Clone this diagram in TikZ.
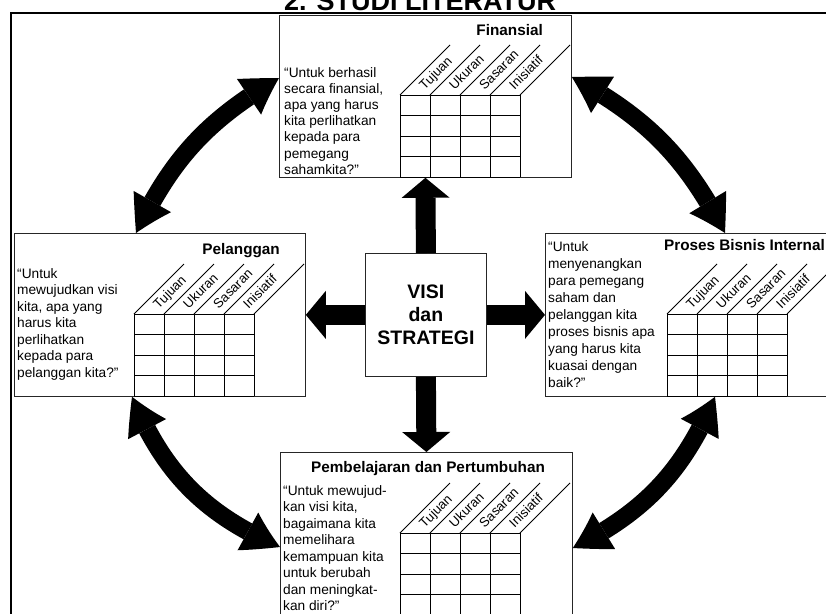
\documentclass[tikz,border=0pt]{standalone}
\usepackage{fontspec}
\setmainfont{Liberation Sans}
\usetikzlibrary{arrows.meta,bending,calc}
\newcommand\bscgrid[2]{%
  \foreach \k in {0,1,2,3,4} {
    \draw[gridline] ({#1+30*\k},#2) -- ({#1+30*\k},{#2+82});
    \draw[gridline] ({#1+30*\k},#2) -- ({#1+30*\k+50},{#2-50});
    \draw[gridline] (#1,{#2+20.5*\k}) -- ({#1+120},{#2+20.5*\k});
  }
  \foreach \lab [count=\k from 0] in {Tujuan,Ukuran,Sasaran,Inisiatif}
    \node[collabel] at ({#1+30*\k+24.5},{#2-4.5}) {\lab};
}
\begin{document}
\begin{tikzpicture}[x=1pt,y=-1pt,
  box/.style={draw=black!85, line width=0.8pt, fill=white, inner sep=0pt, anchor=north west},
  gridline/.style={line width=0.8pt},
  quote/.style={anchor=north west, inner sep=0pt, align=left, font=\fontsize{13.7}{16.5}\selectfont},
  ttl/.style={inner sep=0pt, font=\bfseries\fontsize{15.3}{18}\selectfont},
  collabel/.style={inner sep=0pt, anchor=base west, rotate=45, font=\fontsize{13.2}{15}\selectfont},
  fatarrow/.style={line width=20pt, -{Triangle[width=48pt,length=20pt,line width=0pt]}},
  curvearrow/.style={line width=18pt, {Triangle[width=43pt,length=37pt,line width=0pt,bend]}-{Triangle[width=43pt,length=37pt,line width=0pt,bend]}},
]
\useasboundingbox (0,0) rectangle (826,613);
\clip (0,0) rectangle (826,613);

% title and outer frame
\node[inner sep=0pt, anchor=base, font=\bfseries\fontsize{27}{30}\selectfont] (title) at (420,10) {2. STUDI LITERATUR};
\draw[line width=2.5pt] (11,13) rectangle (860,660);

% boxes
\node[box, minimum width=292pt, minimum height=162pt] (fin) at (279,15) {};
\node[box, minimum width=291pt, minimum height=163pt] (pel) at (14,233) {};
\node[box, minimum width=292pt, minimum height=163pt] (pro) at (545,233) {};
\node[box, minimum width=292pt, minimum height=163pt] (pem) at (280,452) {};
\node[box, minimum width=121pt, minimum height=123pt, align=center,
      font=\bfseries\fontsize{19.5}{23}\selectfont] (visi) at (365,253) {VISI\\dan\\STRATEGI};

% grids
\bscgrid{400}{95}
\bscgrid{134}{314}
\bscgrid{667}{314}
\bscgrid{400}{533}

% titles
\node[ttl, anchor=base east] (tfin) at (543,35) {Finansial};
\node[ttl, anchor=base east] (tpel) at (280,254) {Pelanggan};
\node[ttl, anchor=base east] (tpro) at (825,250) {Proses Bisnis Internal};
\node[ttl, anchor=base] (tpem) at (428,472) {Pembelajaran dan Pertumbuhan};

% questions (north west placed ~10pt above first baseline)
\node[quote, font=\fontsize{13.7}{16.2}\selectfont] (qfin) at (284,67) {“Untuk berhasil\\secara finansial,\\apa yang harus\\kita perlihatkan\\kepada para\\pemegang\\sahamkita?”};
\node[quote] (qpel) at (17,268) {“Untuk\\mewujudkan visi\\kita, apa yang\\harus kita\\perlihatkan\\kepada para\\pelanggan kita?”};
\node[quote, font=\fontsize{13.7}{17}\selectfont] (qpro) at (548,241) {“Untuk\\menyenangkan\\para pemegang\\saham dan\\pelanggan kita\\proses bisnis apa\\yang harus kita\\kuasai dengan\\baik?”};
\node[quote] (qpem) at (283,485) {“Untuk mewujud-\\kan visi kita,\\bagaimana kita\\memelihara\\kemampuan kita\\untuk berubah\\dan meningkat-\\kan diri?”};

% straight arrows
\draw[fatarrow] (visi.north) -- (fin.south);
\draw[fatarrow] (visi.south) -- (pem.north);
\draw[fatarrow] (visi.west) -- (pel.east);
\draw[fatarrow] (visi.east) -- (pro.west);

% curved arrow end points
\coordinate (fW) at ($(fin.north west)+(0,63)$);
\coordinate (pN) at ($(pel.north west)+(122,0)$);
\coordinate (fE) at ($(fin.north east)+(0,62)$);
\coordinate (rN) at ($(pro.north west)+(180,0)$);
\coordinate (pS) at ($(pel.south west)+(118,0)$);
\coordinate (bW) at ($(pem.north west)+(0,95)$);
\coordinate (rS) at ($(pro.south west)+(170,0)$);
\coordinate (bE) at ($(pem.north east)+(0,96)$);

\draw[curvearrow] (pN) to[bend left=17] (fW);
\draw[curvearrow] (fE) to[bend left=17] (rN);
\draw[curvearrow] (pS) to[bend right=22] (bW);
\draw[curvearrow] (rS) to[bend left=20] (bE);
\end{tikzpicture}
\end{document}
